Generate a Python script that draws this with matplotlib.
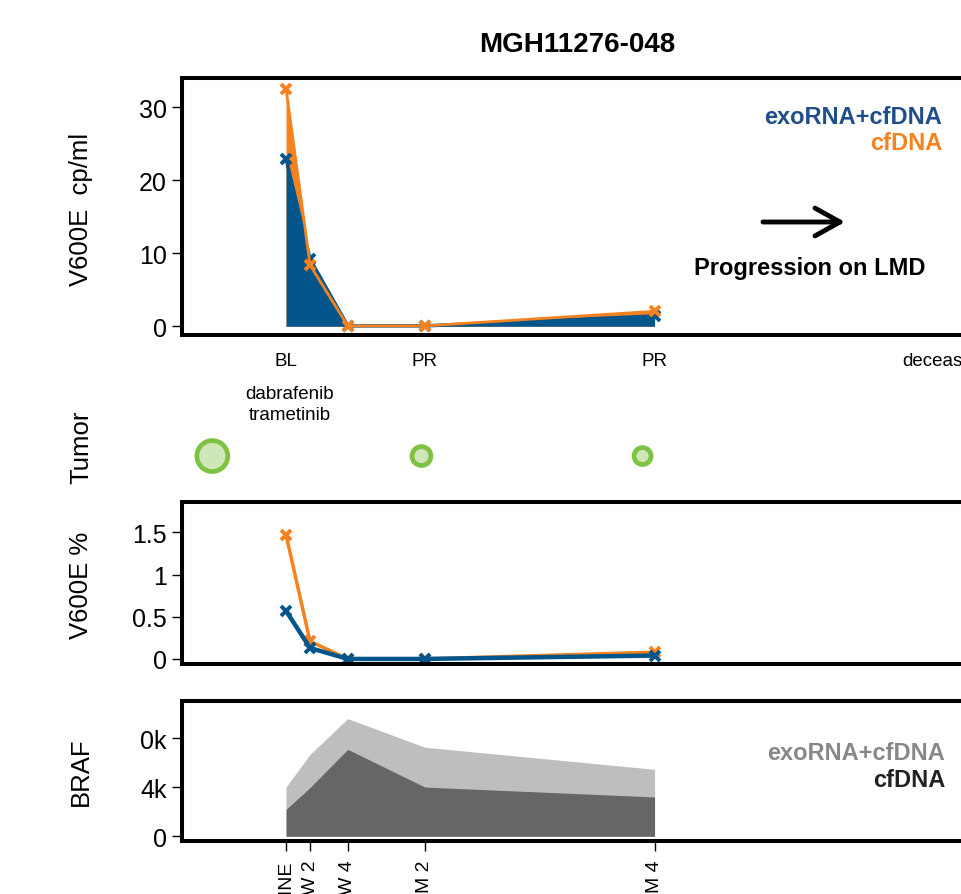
import numpy as np
import matplotlib
matplotlib.use("Agg")
import matplotlib.pyplot as plt

plt.rcParams['font.family'] = ['Liberation Sans', 'DejaVu Sans']

# sample time points (days from baseline)
days = [0, 14, 36, 81, 215]
tick_labels = ['BASELINE', 'W 2', 'W 4', 'M 2', 'M 4']

# V600E copies/ml
cp_exo = [23.0, 9.2, 0.05, 0.05, 1.4]
cp_cf = [32.6, 8.4, 0.05, 0.05, 2.05]

# V600E mutant fraction %
pct_exo = [0.57, 0.13, 0.0, 0.0, 0.04]
pct_cf = [1.47, 0.21, 0.0, 0.0, 0.08]

# total BRAF copies
braf_exo = [4020, 6690, 9610, 7270, 5470]
braf_cf = [2200, 3980, 7100, 4020, 3210]

# tumor scans
scan_days = [-43, 79, 208]
scan_size = [33, 21, 19]
resp_days = [0, 81, 215, 383]
resp_labels = ['BL', 'PR', 'PR', 'deceased']

BLUE = '#02568C'
ORANGE = '#F5821F'

W, H = 961, 895
fig = plt.figure(figsize=(W / 100, H / 100), dpi=100)


def box(top, bottom, left=182, right=972):
    return [left / W, 1 - bottom / H, (right - left) / W, (bottom - top) / H]


def fpos(x, y):
    return x / W, 1 - y / H


xlim = (-60.7, 400.2)


def style(ax):
    for s in ax.spines.values():
        s.set_linewidth(2.9)
    ax.tick_params(axis='y', labelsize=18, length=7, width=1.0, pad=4)
    ax.set_xlim(xlim)


# --- top panel: copies/ml
ax1 = fig.add_axes(box(79.3, 336))
style(ax1)
ax1.fill_between(days, 0, cp_cf, color=ORANGE, lw=0)
ax1.fill_between(days, 0, cp_exo, color=BLUE, lw=0)
ax1.plot(days, cp_exo, color=BLUE, lw=2.5, marker='x', ms=7, mew=2.8)
ax1.plot(days, cp_cf, color=ORANGE, lw=2.0, marker='x', ms=7, mew=2.8)
ax1.set_ylim(-1.2, 34)
ax1.set_yticks([0, 10, 20, 30])
ax1.set_xticks([])

fig.text(*fpos(942, 117), 'exoRNA+cfDNA', color='#1F4E8A', fontsize=17,
         fontweight='bold', ha='right', va='center')
fig.text(*fpos(942, 143), 'cfDNA', color=ORANGE, fontsize=17,
         fontweight='bold', ha='right', va='center')
fig.text(*fpos(810, 269), 'Progression on LMD', fontsize=17,
         fontweight='bold', ha='center', va='center')
ax1.annotate('', xy=fpos(845, 223), xytext=fpos(763, 223),
             xycoords='figure fraction', textcoords='figure fraction',
             arrowprops=dict(arrowstyle='->,head_length=0.9,head_width=0.5',
                             mutation_scale=20, lw=3.5, color='black',
                             shrinkA=0, shrinkB=0))

# --- tumor strip
axt = fig.add_axes(box(345, 495))
axt.set_xlim(xlim)
axt.set_ylim(0, 1)
axt.axis('off')
axt.scatter(scan_days, [0.253] * len(scan_days),
            s=[(d * 0.72 - 1.5) ** 2 for d in scan_size],
            facecolor='#CFE6B8', edgecolor='#7DC242', linewidth=3.4, clip_on=False)
for d, lab in zip(resp_days, resp_labels):
    axt.text(d, 0.887, lab, fontsize=13.5, ha='center', va='center', clip_on=False)
axt.text(2, 0.6, 'dabrafenib\ntrametinib', fontsize=13.5, ha='center',
         va='center', linespacing=1.25)

# --- middle panel: V600E %
ax2 = fig.add_axes(box(503.3, 665))
style(ax2)
ax2.plot(days, pct_cf, color=ORANGE, lw=2.5, marker='x', ms=7, mew=2.8)
ax2.plot(days, pct_exo, color=BLUE, lw=3.2, marker='x', ms=7, mew=2.8)
ax2.set_ylim(-0.06, 1.857)
ax2.set_yticks([0, 0.5, 1, 1.5])
ax2.set_yticklabels(['0', '0.5', '1', '1.5'])
ax2.set_xticks([])

# --- bottom panel: BRAF
ax3 = fig.add_axes(box(701.7, 842.3))
style(ax3)
ax3.fill_between(days, 0, braf_exo, color='#BEBEBE', lw=0)
ax3.fill_between(days, 0, braf_cf, color='#666666', lw=0)
ax3.set_ylim(-408, 11070)
ax3.set_yticks([0, 4000, 8000])
ax3.set_yticklabels(['0', '4k', '0k'])
ax3.set_xticks(days)
ax3.set_xticklabels(tick_labels, rotation=90, fontsize=14, va='top')
ax3.tick_params(axis='x', length=7, width=1.0, pad=6)
fig.text(*fpos(945, 754), 'exoRNA+cfDNA', color='#888888', fontsize=17,
         fontweight='bold', ha='right', va='center')
fig.text(*fpos(945, 781), 'cfDNA', color='#222222', fontsize=17,
         fontweight='bold', ha='right', va='center')

# y labels and title
for y, lab in [(209, 'V600E  cp/ml'), (447, 'Tumor'), (585, 'V600E %'), (772, 'BRAF')]:
    fig.text(*fpos(81, y), lab, rotation=90, fontsize=18.5, ha='center', va='center')
fig.text(*fpos(577, 45), 'MGH11276-048', fontsize=20, fontweight='bold',
         ha='center', va='center')

fig.savefig('out.png', dpi=100)
